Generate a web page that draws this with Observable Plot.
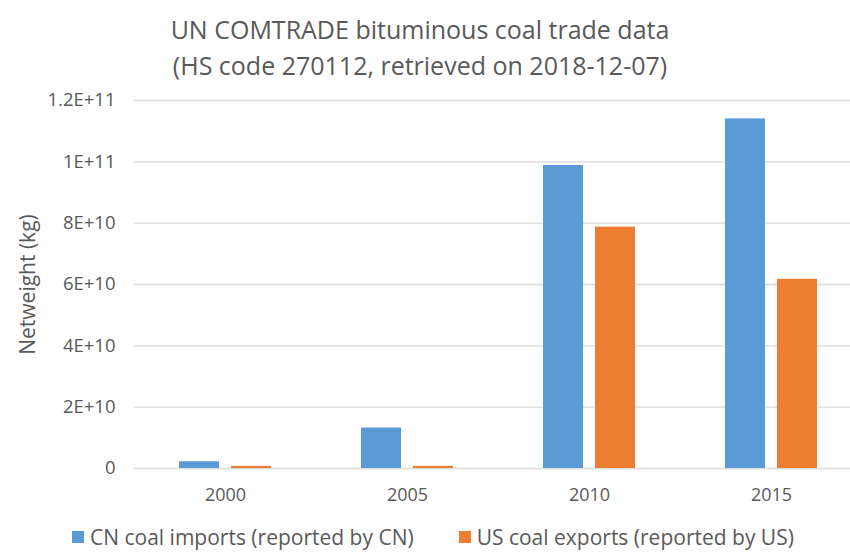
<!DOCTYPE html>
<html>
<head>
<meta charset="utf-8">
<script src="https://cdn.jsdelivr.net/npm/d3@7"></script>
<script src="https://cdn.jsdelivr.net/npm/@observablehq/plot@0.6"></script>
<style>
  html, body { margin: 0; padding: 0; background: #fff; overflow: hidden; }
  #wrap { width: 850px; height: 553px; position: relative; font-family: "Open Sans", sans-serif; color: #595959; }
  #title { height: 83px; box-sizing: border-box; padding-top: 11px; padding-right: 10px; text-align: center; font-size: 25px; line-height: 36px; white-space: nowrap; }
  #chart { height: 435px; margin-top: 2px; }
  #chart svg { overflow: hidden; display: block; }
  #legend { display: flex; align-items: center; height: 33px; padding-left: 72px; font-size: 21px; white-space: nowrap; }
  .item { display: flex; align-items: center; }
  .swatch { width: 12px; height: 12px; margin-right: 6px; margin-top: 1px; }
</style>
</head>
<body>
<div id="wrap">
  <div id="title">UN COMTRADE bituminous coal trade data<br>(HS code 270112, retrieved on 2018-12-07)</div>
  <div id="chart"></div>
  <div id="legend"></div>
</div>
<script>
// Years on the category axis
const years = ["2000", "2005", "2010", "2015"];
// Series names and colours
const seriesNames = ["CN coal imports (reported by CN)", "US coal exports (reported by US)"];
const seriesColors = ["#5B9BD5", "#ED7D31"];
// Net weight in kg per year
const cnImports = [2.2e9, 1.32e10, 9.88e10, 1.14e11];
const usExports = [7e8, 7e8, 7.87e10, 6.17e10];
// Value axis ticks and their labels
const yTicks = [0, 2e10, 4e10, 6e10, 8e10, 1e11, 1.2e11];
const yTickLabels = ["0", "2E+10", "4E+10", "6E+10", "8E+10", "1E+11", "1.2E+11"];
const yTitle = "Netweight (kg)";

const rows = [];
years.forEach((year, i) => {
  rows.push({year, series: seriesNames[0], value: cnImports[i]});
  rows.push({year, series: seriesNames[1], value: usExports[i]});
});

const chart = Plot.plot({
  width: 850,
  height: 435,
  marginLeft: 134,
  marginRight: -12,
  marginTop: 15,
  marginBottom: 52,
  style: {fontFamily: "Open Sans, sans-serif", fontSize: "18px", color: "#595959", background: "#fff"},
  fx: {domain: years, padding: 0, label: null, tickSize: 0, tickPadding: 20, axis: "bottom"},
  x: {domain: seriesNames, paddingInner: 0.226, paddingOuter: 0.83, axis: null},
  y: {domain: [0, 1.2e11], ticks: yTicks, label: null},
  color: {domain: seriesNames, range: seriesColors},
  marks: [
    Plot.gridY(yTicks, {stroke: "#D9D9D9", strokeOpacity: 1, strokeWidth: 1.3}),
    // tick labels
    Plot.axisY(yTicks, {
      tickSize: 0,
      tickPadding: 19,
      fontSize: 18.5,
      tickFormat: (d) => yTickLabels[yTicks.indexOf(d)],
      label: null
    }),
    // axis title only
    Plot.axisY([], {
      tickSize: 0,
      fontSize: 21,
      label: yTitle,
      labelAnchor: "center",
      labelArrow: "none",
      labelOffset: 114
    }),
    Plot.barY(rows, {fx: "year", x: "series", y: "value", fill: "series"})
  ]
});
document.getElementById("chart").appendChild(chart);

// Legend below the chart
const legend = document.getElementById("legend");
seriesNames.forEach((name, i) => {
  const item = document.createElement("div");
  item.className = "item";
  if (i > 0) item.style.marginLeft = "45px";
  const sw = document.createElement("span");
  sw.className = "swatch";
  sw.style.background = seriesColors[i];
  const label = document.createElement("span");
  label.textContent = name;
  item.appendChild(sw);
  item.appendChild(label);
  legend.appendChild(item);
});
</script>
</body>
</html>
